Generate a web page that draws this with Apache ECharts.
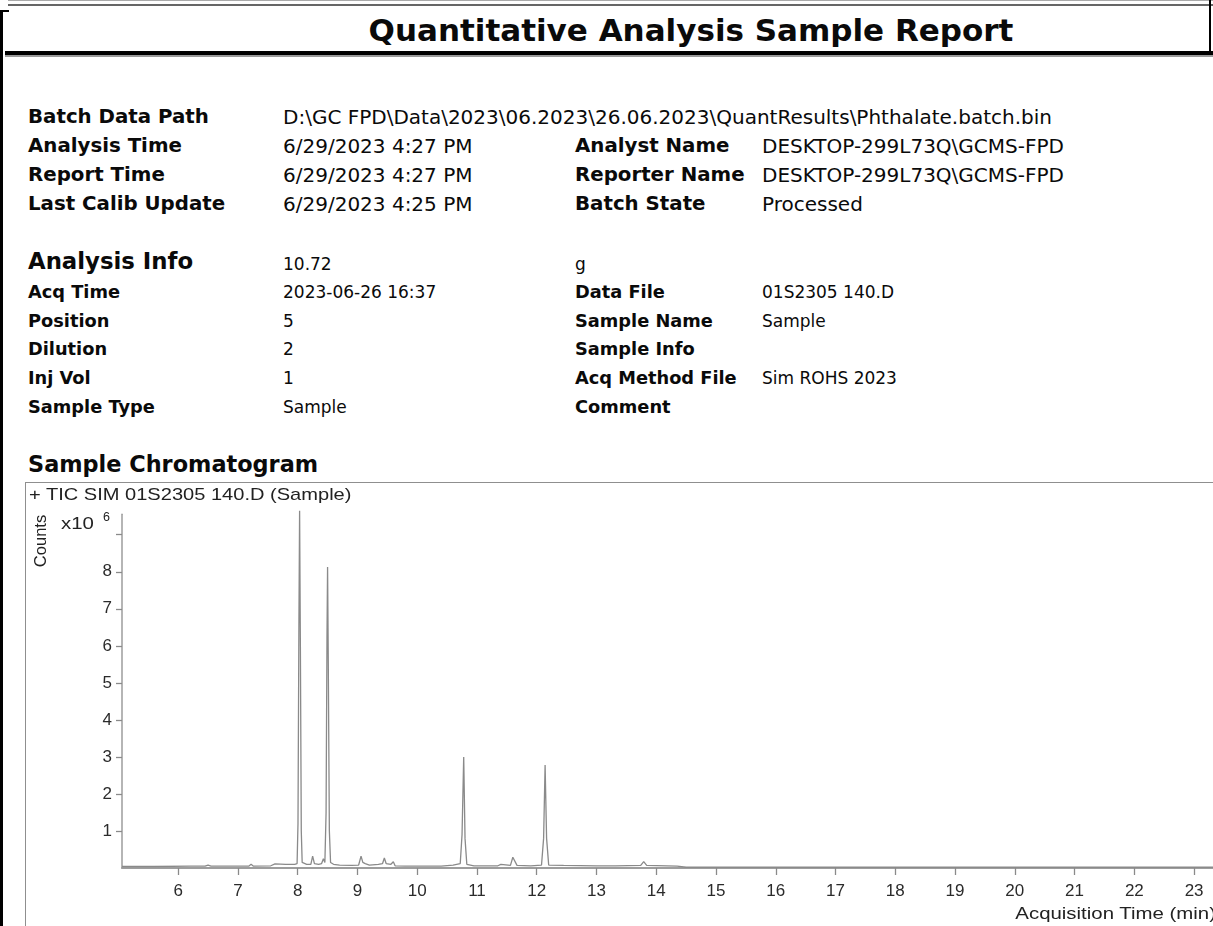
<!DOCTYPE html>
<html>
<head>
<meta charset="utf-8">
<title>Quantitative Analysis Sample Report</title>
<script src="https://cdn.jsdelivr.net/npm/echarts@6/dist/echarts.min.js"></script>
<style>
  html, body { margin: 0; padding: 0; width: 1213px; height: 926px; overflow: hidden; background: #fff; }
  .abs { position: absolute; white-space: nowrap; line-height: 1; color: #0a0a0a; }
  .bold { font-family: "DejaVu Sans", sans-serif; font-weight: bold; }
  .reg { font-family: "DejaVu Sans", sans-serif; font-weight: normal; }
  .arial { font-family: "Liberation Sans", Arial, sans-serif; color: #222; }
  .rule { position: absolute; }
  #chart { position: absolute; left: 0; top: 0; width: 1300px; height: 926px; }
</style>
</head>
<body>

<!-- page frame -->
<div class="rule" style="left:8px; top:0; width:1205px; height:1px; background:#aaa;"></div>
<div class="rule" style="left:8px; top:4px; width:1205px; height:2px; background:#666;"></div>
<div class="rule" style="left:0; top:10px; width:9px; height:2px; background:#000;"></div>
<div class="rule" style="left:0; top:10px; width:3px; height:916px; background:#000;"></div>
<div class="rule" style="left:1209px; top:0; width:2px; height:56px; background:#000;"></div>
<div class="rule" style="left:5px; top:51px; width:1208px; height:4px; background:#000;"></div>
<div class="rule" style="left:5px; top:55px; width:1208px; height:2px; background:#9a9a9a;"></div>

<!-- report title -->
<div class="abs bold" style="left:691px; top:15px; font-size:31px; transform:translateX(-50%);">Quantitative Analysis Sample Report</div>

<!-- batch block -->
<div class="abs bold" style="left:28px; top:106.5px; font-size:19.8px;">Batch Data Path</div>
<div class="abs reg"  style="left:283px; top:106.5px; font-size:20px;">D:\GC FPD\Data\2023\06.2023\26.06.2023\QuantResults\Phthalate.batch.bin</div>

<div class="abs bold" style="left:28px; top:135.5px; font-size:19.8px;">Analysis Time</div>
<div class="abs reg"  style="left:283px; top:135.5px; font-size:20px;">6/29/2023 4:27 PM</div>
<div class="abs bold" style="left:575px; top:135.5px; font-size:19.8px;">Analyst Name</div>
<div class="abs reg"  style="left:762px; top:135.5px; font-size:20px;">DESKTOP-299L73Q\GCMS-FPD</div>

<div class="abs bold" style="left:28px; top:164.5px; font-size:19.8px;">Report Time</div>
<div class="abs reg"  style="left:283px; top:164.5px; font-size:20px;">6/29/2023 4:27 PM</div>
<div class="abs bold" style="left:575px; top:164.5px; font-size:19.8px;">Reporter Name</div>
<div class="abs reg"  style="left:762px; top:164.5px; font-size:20px;">DESKTOP-299L73Q\GCMS-FPD</div>

<div class="abs bold" style="left:28px; top:193.5px; font-size:19.8px;">Last Calib Update</div>
<div class="abs reg"  style="left:283px; top:193.5px; font-size:20px;">6/29/2023 4:25 PM</div>
<div class="abs bold" style="left:575px; top:193.5px; font-size:19.8px;">Batch State</div>
<div class="abs reg"  style="left:762px; top:193.5px; font-size:20px;">Processed</div>

<!-- analysis info block -->
<div class="abs bold" style="left:28px; top:250px; font-size:22.8px;">Analysis Info</div>
<div class="abs reg"  style="left:283px; top:255.8px; font-size:17px;">10.72</div>
<div class="abs reg"  style="left:575px; top:255.8px; font-size:17px;">g</div>

<div class="abs bold" style="left:28px; top:283.4px; font-size:17.8px;">Acq Time</div>
<div class="abs reg"  style="left:283px; top:283.8px; font-size:17px;">2023-06-26 16:37</div>
<div class="abs bold" style="left:575px; top:283.4px; font-size:17.8px;">Data File</div>
<div class="abs reg"  style="left:762px; top:283.8px; font-size:17px;">01S2305 140.D</div>

<div class="abs bold" style="left:28px; top:312.4px; font-size:17.8px;">Position</div>
<div class="abs reg"  style="left:283px; top:312.8px; font-size:17px;">5</div>
<div class="abs bold" style="left:575px; top:312.4px; font-size:17.8px;">Sample Name</div>
<div class="abs reg"  style="left:762px; top:312.8px; font-size:17px;">Sample</div>

<div class="abs bold" style="left:28px; top:340.4px; font-size:17.8px;">Dilution</div>
<div class="abs reg"  style="left:283px; top:340.8px; font-size:17px;">2</div>
<div class="abs bold" style="left:575px; top:340.4px; font-size:17.8px;">Sample Info</div>

<div class="abs bold" style="left:28px; top:369.4px; font-size:17.8px;">Inj Vol</div>
<div class="abs reg"  style="left:283px; top:369.8px; font-size:17px;">1</div>
<div class="abs bold" style="left:575px; top:369.4px; font-size:17.8px;">Acq Method File</div>
<div class="abs reg"  style="left:762px; top:369.8px; font-size:17px;">Sim ROHS 2023</div>

<div class="abs bold" style="left:28px; top:398.4px; font-size:17.8px;">Sample Type</div>
<div class="abs reg"  style="left:283px; top:398.8px; font-size:17px;">Sample</div>
<div class="abs bold" style="left:575px; top:398.4px; font-size:17.8px;">Comment</div>

<!-- chromatogram section -->
<div class="abs bold" style="left:28px; top:453.2px; font-size:22.4px;">Sample Chromatogram</div>
<div class="rule" style="left:25px; top:482px; width:1300px; height:460px; border:1px solid #8f8f8f; box-sizing:border-box;"></div>

<div id="chart"></div>

<div class="abs arial" style="left:29px; top:485.7px; font-size:17px; transform:scaleX(1.18); transform-origin:0 0;">+ TIC SIM 01S2305 140.D (Sample)</div>
<div class="abs arial" style="left:40px; top:541px; font-size:16.5px; transform:translate(-50%,-50%) rotate(-90deg);">Counts</div>
<div class="abs arial" style="left:61px; top:514.5px; font-size:17px; transform:scaleX(1.2); transform-origin:0 0;">x10</div>
<div class="abs arial" style="left:103px; top:510.5px; font-size:12.5px;">6</div>
<div class="abs arial" style="left:1216px; top:904.5px; font-size:17px; transform:translateX(-100%) scaleX(1.2); transform-origin:100% 0;">Acquisition Time (min)</div>

<script>
// TIC trace: retention time (min) and abundance (x10^6 counts)
const retentionTimes = [
  5.06, 5.6, 6.2, 6.45, 6.5, 6.55, 7.0, 7.18, 7.22, 7.26,
  7.55, 7.62, 7.8, 7.95, 7.99, 8.005, 8.02, 8.032, 8.045, 8.06,
  8.075, 8.15, 8.22, 8.25, 8.28, 8.35, 8.40, 8.43, 8.455, 8.475,
  8.49, 8.50, 8.512, 8.53, 8.55, 8.6, 8.7, 8.9, 9.02, 9.06,
  9.09, 9.13, 9.2, 9.35, 9.42, 9.45, 9.48, 9.56, 9.6, 9.63,
  9.8, 10.4, 10.6, 10.72, 10.75, 10.778, 10.80, 10.83, 10.95, 11.35,
  11.4, 11.43, 11.56, 11.6, 11.63, 11.67, 11.9, 12.08, 12.115, 12.14,
  12.165, 12.2, 12.45, 13.0, 13.25, 13.28, 13.32, 13.74, 13.79, 13.84,
  14.35, 14.5, 16.0, 20.0, 24.0
];
const ticCounts = [
  0.04, 0.04, 0.05, 0.05, 0.08, 0.05, 0.05, 0.05, 0.10, 0.05,
  0.06, 0.11, 0.10, 0.10, 0.12, 1.2, 6.5, 9.65, 6.0, 1.0,
  0.15, 0.10, 0.10, 0.32, 0.12, 0.10, 0.12, 0.25, 0.15, 1.5,
  6.2, 8.13, 5.5, 1.0, 0.15, 0.10, 0.08, 0.07, 0.08, 0.32,
  0.15, 0.12, 0.08, 0.10, 0.12, 0.27, 0.12, 0.10, 0.17, 0.06,
  0.05, 0.05, 0.08, 0.12, 0.9, 3.0, 0.8, 0.10, 0.06, 0.06,
  0.10, 0.06, 0.07, 0.29, 0.28, 0.07, 0.06, 0.08, 0.8, 2.78,
  0.8, 0.08, 0.07, 0.06, 0.06, 0.10, 0.06, 0.07, 0.17, 0.07,
  0.05, 0.02, 0.02, 0.02, 0.02
];
const timeTicks = [6, 7, 8, 9, 10, 11, 12, 13, 14, 15, 16, 17, 18, 19, 20, 21, 22, 23];
const countTicks = [1, 2, 3, 4, 5, 6, 7, 8, 9];
const countLabels = [1, 2, 3, 4, 5, 6, 7, 8];

const X_MIN = 5.06, X_MAX = 24;
const Y_MAX = 9.55;
const PX_PER_MIN = 59.76, PX_PER_UNIT = 37.03;
const AXIS_LEFT = 122, AXIS_BOTTOM = 868;

const gridHeight = Y_MAX * PX_PER_UNIT;
const gridWidth = (X_MAX - X_MIN) * PX_PER_MIN;

const chart = echarts.init(document.getElementById('chart'));
chart.setOption({
  animation: false,
  grid: {
    left: AXIS_LEFT,
    top: AXIS_BOTTOM - gridHeight,
    width: gridWidth,
    height: gridHeight,
    containLabel: false
  },
  xAxis: {
    type: 'value',
    min: X_MIN,
    max: X_MAX,
    axisLine: { show: true, onZero: false, lineStyle: { color: '#9d9d9d', width: 2 } },
    axisTick: { show: true, customValues: timeTicks, length: 7, lineStyle: { color: '#8a8a8a', width: 1.3 } },
    axisLabel: { customValues: timeTicks, color: '#2b2b2b', fontSize: 17, fontFamily: 'Liberation Sans, Arial, sans-serif', margin: 15 },
    splitLine: { show: false }
  },
  yAxis: {
    type: 'value',
    min: 0,
    max: Y_MAX,
    axisLine: { show: true, lineStyle: { color: '#9d9d9d', width: 1.5 } },
    axisTick: { show: true, customValues: countTicks, length: 6, lineStyle: { color: '#8a8a8a', width: 1.3 } },
    axisLabel: { customValues: countLabels, color: '#2b2b2b', fontSize: 17, fontFamily: 'Liberation Sans, Arial, sans-serif', margin: 10 },
    splitLine: { show: false }
  },
  series: [{
    type: 'line',
    data: retentionTimes.map((t, i) => [t, ticCounts[i]]),
    showSymbol: false,
    symbol: 'none',
    clip: false,
    silent: true,
    lineStyle: { color: '#8a8a8a', width: 1.3 }
  }]
});
</script>
</body>
</html>
